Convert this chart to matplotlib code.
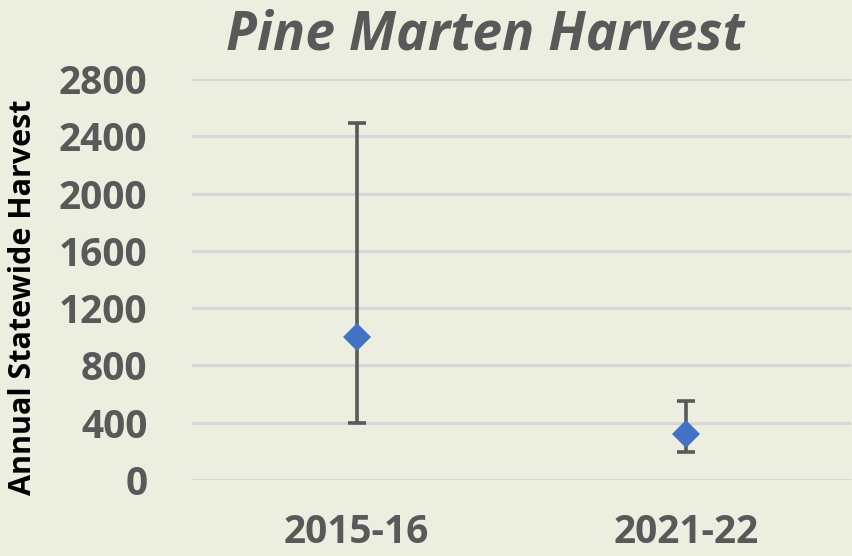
import numpy as np
from matplotlib import pyplot as plt

# Pine marten harvest estimates with error ranges
seasons = ["2015-16", "2021-22"]
harvest = [1000, 320]
upper = [2490, 550]
lower = [395, 195]
yticks = [0, 400, 800, 1200, 1600, 2000, 2400, 2800]

bg = "#ECEFE0"
grey = "#595959"

plt.rcParams['font.family'] = ['Open Sans', 'DejaVu Sans']

fig = plt.figure(figsize=(8.52, 5.56), dpi=100, facecolor=bg)
ax = fig.add_axes([192 / 852, 1 - 480 / 556, (851 - 192) / 852, (480 - 79) / 556])
ax.set_facecolor(bg)

x = np.arange(len(seasons))
h = np.array(harvest)
yerr = [h - np.array(lower), np.array(upper) - h]
ax.errorbar(x, h, yerr=yerr, fmt='none', ecolor=grey, elinewidth=2.6,
            capsize=6.5, capthick=2.6, zorder=3)
ax.plot(x, h, 'D', color='#4472C4', markersize=14.5, markeredgewidth=0, zorder=4)

ax.set_xlim(-0.5, 1.5)
ax.set_ylim(0, 2800)
ax.set_yticks(yticks)
ax.set_xticks(x)
ax.set_xticklabels(seasons)
ax.grid(axis='y', color='#D6D6D6', linewidth=2.2, zorder=0)
ax.set_axisbelow(True)
for s in ax.spines.values():
    s.set_visible(False)
ax.tick_params(length=0, labelsize=28, labelcolor=grey)
ax.tick_params(axis='y', pad=32)
ax.tick_params(axis='x', pad=24)
for lab in ax.get_xticklabels() + ax.get_yticklabels():
    lab.set_fontweight('bold')

fig.text(485 / 852, 1 - 35 / 556, "Pine Marten Harvest", ha='center', va='center',
         fontsize=38.5, fontweight='bold', style='italic', color=grey)
fig.text(23 / 852, 1 - 297 / 556, "Annual Statewide Harvest", rotation=90,
         ha='center', va='center', fontsize=22, fontweight='bold', color='black')

fig.savefig("out.png", dpi=100, facecolor=bg)
